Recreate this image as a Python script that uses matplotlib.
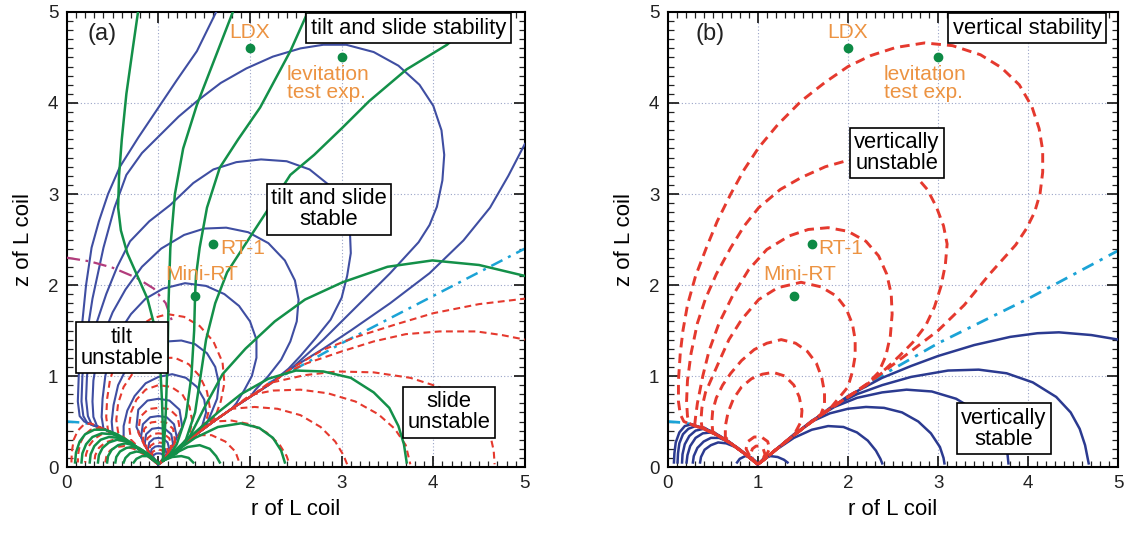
import numpy as np
import matplotlib
matplotlib.use("Agg")
import matplotlib.pyplot as plt
from matplotlib.ticker import MultipleLocator

plt.rcParams['font.family'] = ['Liberation Sans', 'DejaVu Sans']

# ---- shared geometry (r, z) ----
LEFT_SEP = [(1.0, 0.03), (0.95, 0.07), (0.85, 0.15), (0.70, 0.26),
            (0.55, 0.35), (0.40, 0.42), (0.28, 0.46), (0.20, 0.49)]
RIGHT_SEP = [(1.0, 0.03), (1.08, 0.09), (1.2, 0.19), (1.4, 0.35), (1.6, 0.5),
             (1.8, 0.64), (2.0, 0.77), (2.2, 0.9), (2.44, 1.05)]

devices = ['LDX', 'levitation\ntest exp.', 'RT-1', 'Mini-RT']
dev_r = [2.0, 3.0, 1.6, 1.4]
dev_z = [4.6, 4.5, 2.45, 1.88]

# ---- panel (a): tilt (blue) ----
tilt_drops = [
    [(1.0, 0.03), (0.965, 0.05), (0.94, 0.09), (0.945, 0.13), (0.975, 0.148), (1.0, 0.15),
     (1.025, 0.148), (1.055, 0.13), (1.06, 0.09), (1.035, 0.05), (1.0, 0.03)],
    [(1.0, 0.03), (0.95, 0.07), (0.915, 0.14), (0.925, 0.195), (0.965, 0.225), (1.0, 0.23),
     (1.04, 0.225), (1.075, 0.195), (1.09, 0.14), (1.055, 0.07), (1.0, 0.03)],
    [(1.0, 0.03), (0.93, 0.1), (0.885, 0.19), (0.9, 0.27), (0.95, 0.313), (1.0, 0.32),
     (1.05, 0.313), (1.1, 0.27), (1.12, 0.19), (1.075, 0.1), (1.0, 0.03)],
    [(1.0, 0.03), (0.91, 0.13), (0.85, 0.25), (0.865, 0.36), (0.93, 0.42), (1.0, 0.43),
     (1.07, 0.42), (1.14, 0.36), (1.16, 0.25), (1.1, 0.13), (1.0, 0.03)],
    [(1.0, 0.03), (0.89, 0.17), (0.81, 0.33), (0.83, 0.47), (0.91, 0.547), (1.0, 0.56),
     (1.09, 0.547), (1.17, 0.47), (1.2, 0.33), (1.12, 0.17), (1.0, 0.03)],
    [(1.0, 0.03), (0.86, 0.22), (0.76, 0.44), (0.78, 0.63), (0.88, 0.73), (1.0, 0.75),
     (1.12, 0.73), (1.23, 0.63), (1.26, 0.44), (1.15, 0.22), (1.0, 0.03)],
]
tilt_loops = [
    [(0.62, 0.31), (0.62, 0.45), (0.66, 0.62), (0.74, 0.78), (0.86, 0.92), (1.0, 0.99),
     (1.15, 1.02), (1.3, 0.98), (1.42, 0.88), (1.5, 0.74), (1.52, 0.6), (1.48, 0.46), (1.42, 0.37)],
    [(0.5, 0.38), (0.49, 0.5), (0.51, 0.68), (0.56, 0.9), (0.65, 1.08), (0.78, 1.23), (0.93, 1.33),
     (1.1, 1.38), (1.25, 1.39), (1.4, 1.35), (1.53, 1.25), (1.62, 1.1), (1.66, 0.92), (1.64, 0.75),
     (1.58, 0.6), (1.52, 0.46)],
    [(0.4, 0.42), (0.38, 0.55), (0.39, 0.75), (0.42, 1.0), (0.48, 1.25), (0.57, 1.48), (0.7, 1.68),
     (0.86, 1.85), (1.05, 1.96), (1.29, 2.02), (1.52, 1.99), (1.72, 1.9), (1.88, 1.77), (2.0, 1.6),
     (2.07, 1.4), (2.07, 1.2), (2.02, 1.0), (1.94, 0.85), (1.85, 0.7)],
    [(0.33, 0.45), (0.29, 0.55), (0.28, 0.72), (0.29, 0.95), (0.33, 1.2), (0.4, 1.45), (0.5, 1.7),
     (0.64, 1.95), (0.82, 2.2), (1.03, 2.4), (1.28, 2.55), (1.5, 2.62), (1.74, 2.63), (1.98, 2.58),
     (2.2, 2.46), (2.38, 2.27), (2.49, 2.05), (2.53, 1.84), (2.51, 1.6), (2.44, 1.38), (2.34, 1.18),
     (2.2, 1.0), (2.06, 0.85)],
    [(0.27, 0.47), (0.23, 0.56), (0.21, 0.75), (0.22, 1.0), (0.26, 1.3), (0.33, 1.6), (0.43, 1.9),
     (0.55, 2.2), (0.69, 2.48), (0.9, 2.7), (1.13, 2.88), (1.38, 3.12), (1.6, 3.27), (1.85, 3.35),
     (2.12, 3.38), (2.4, 3.36), (2.65, 3.27), (2.86, 3.1), (3.01, 2.86), (3.09, 2.6), (3.1, 2.35),
     (3.06, 2.1), (3.0, 1.86), (2.88, 1.62), (2.72, 1.42), (2.55, 1.22), (2.42, 1.08)],
    [(0.22, 0.49), (0.18, 0.56), (0.16, 0.72), (0.17, 1.0), (0.21, 1.4), (0.28, 1.85), (0.4, 2.41),
     (0.52, 2.85), (0.65, 3.21), (0.82, 3.45), (1.02, 3.65), (1.22, 3.85), (1.42, 4.02), (1.68, 4.22),
     (1.96, 4.38), (2.25, 4.51), (2.55, 4.6), (2.8, 4.64), (3.05, 4.64), (3.35, 4.56), (3.62, 4.41),
     (3.85, 4.2), (4.0, 3.97), (4.09, 3.7), (4.12, 3.43), (4.1, 3.15), (4.04, 2.86), (3.96, 2.66),
     (3.84, 2.47), (3.53, 2.13), (3.16, 1.76), (2.8, 1.4), (2.46, 1.09)],
]
tilt_open_top = [(0.19, 0.5), (0.14, 0.56), (0.12, 0.72), (0.13, 1.0), (0.16, 1.5), (0.21, 2.0),
                 (0.27, 2.41), (0.35, 2.7), (0.45, 3.0), (0.58, 3.3), (0.78, 3.62), (1.02, 3.98),
                 (1.2, 4.25), (1.42, 4.57), (1.64, 5.02)]
tilt_open_right = [(5.0, 3.55), (4.82, 3.2), (4.62, 2.85), (4.33, 2.49), (3.96, 2.13), (3.53, 1.8),
                   (3.1, 1.5), (2.8, 1.3), (2.46, 1.09)]

# ---- panel (a): unstable contours (red dashed) ----
red_drops_a = [
    [(1.0, 0.03), (0.955, 0.06), (0.927, 0.11), (0.935, 0.165), (0.97, 0.187), (1.0, 0.19),
     (1.03, 0.187), (1.065, 0.165), (1.075, 0.11), (1.045, 0.06), (1.0, 0.03)],
    [(1.0, 0.03), (0.94, 0.08), (0.9, 0.16), (0.91, 0.23), (0.96, 0.265), (1.0, 0.27),
     (1.045, 0.265), (1.09, 0.23), (1.105, 0.16), (1.065, 0.08), (1.0, 0.03)],
    [(1.0, 0.03), (0.92, 0.11), (0.865, 0.22), (0.88, 0.315), (0.94, 0.363), (1.0, 0.37),
     (1.06, 0.363), (1.12, 0.315), (1.14, 0.22), (1.085, 0.11), (1.0, 0.03)],
    [(1.0, 0.03), (0.9, 0.15), (0.83, 0.29), (0.845, 0.42), (0.92, 0.49), (1.0, 0.5),
     (1.08, 0.49), (1.16, 0.42), (1.18, 0.29), (1.11, 0.15), (1.0, 0.03)],
    [(1.0, 0.03), (0.87, 0.19), (0.78, 0.38), (0.8, 0.55), (0.89, 0.637), (1.0, 0.65),
     (1.12, 0.637), (1.21, 0.55), (1.24, 0.38), (1.14, 0.19), (1.0, 0.03)],
]
red_loops_a = [
    [(0.7, 0.3), (0.68, 0.45), (0.7, 0.6), (0.76, 0.74), (0.86, 0.85), (1.0, 0.9), (1.14, 0.88),
     (1.26, 0.8), (1.34, 0.66), (1.37, 0.5), (1.33, 0.33)],
    [(0.56, 0.38), (0.54, 0.52), (0.56, 0.7), (0.62, 0.88), (0.72, 1.03), (0.86, 1.14), (1.02, 1.2),
     (1.18, 1.2), (1.33, 1.13), (1.45, 1.0), (1.53, 0.83), (1.56, 0.66), (1.52, 0.5)],
    [(0.45, 0.4), (0.43, 0.55), (0.44, 0.75), (0.47, 0.95), (0.53, 1.15), (0.62, 1.35), (0.75, 1.52),
     (0.92, 1.63), (1.1, 1.68), (1.28, 1.65), (1.45, 1.55), (1.6, 1.38), (1.7, 1.15), (1.72, 0.92),
     (1.68, 0.72), (1.62, 0.55)],
]
red_left_a = [
    [(0.05, 0.05), (0.055, 0.17), (0.075, 0.3), (0.12, 0.4), (0.18, 0.46), (0.26, 0.48)],
    [(0.12, 0.05), (0.125, 0.15), (0.145, 0.26), (0.19, 0.35), (0.26, 0.41), (0.35, 0.43), (0.45, 0.4)],
    [(0.2, 0.05), (0.21, 0.14), (0.24, 0.23), (0.3, 0.31), (0.38, 0.36), (0.48, 0.37), (0.58, 0.33)],
    [(0.3, 0.05), (0.31, 0.13), (0.35, 0.21), (0.42, 0.27), (0.51, 0.3), (0.61, 0.29), (0.72, 0.24)],
    [(0.42, 0.05), (0.43, 0.11), (0.47, 0.18), (0.54, 0.22), (0.63, 0.23), (0.73, 0.2), (0.84, 0.14)],
]
red_right_a = [
    [(2.46, 1.09), (2.8, 1.29), (3.16, 1.43), (3.6, 1.57), (4.0, 1.69), (4.5, 1.79), (5.0, 1.85)],
    [(2.4, 1.04), (2.62, 1.14), (3.0, 1.27), (3.35, 1.38), (3.7, 1.46), (4.07, 1.49), (4.47, 1.49),
     (4.75, 1.45), (5.0, 1.4)],
    [(2.2, 0.92), (2.6, 1.01), (2.95, 1.05), (3.35, 1.04), (3.75, 0.98), (4.06, 0.88), (4.33, 0.73),
     (4.52, 0.55), (4.62, 0.36), (4.66, 0.18), (4.67, 0.03)],
    [(2.0, 0.79), (2.25, 0.84), (2.55, 0.85), (2.85, 0.81), (3.15, 0.72), (3.4, 0.58), (3.58, 0.42),
     (3.7, 0.24), (3.75, 0.03)],
    [(1.8, 0.64), (2.05, 0.66), (2.3, 0.64), (2.55, 0.57), (2.77, 0.44), (2.93, 0.28), (3.02, 0.13),
     (3.06, 0.03)],
    [(1.6, 0.5), (1.8, 0.51), (2.0, 0.47), (2.18, 0.38), (2.32, 0.25), (2.4, 0.12), (2.43, 0.03)],
    [(1.4, 0.35), (1.58, 0.35), (1.73, 0.28), (1.84, 0.17), (1.89, 0.03)],
]

# ---- panel (a): slide (green) ----
slide_fan = [
    [(0.78, 5.02), (0.72, 4.6), (0.65, 4.1), (0.6, 3.6), (0.57, 3.2), (0.56, 2.85), (0.59, 2.6),
     (0.66, 2.35), (0.77, 2.1), (0.88, 1.85), (0.97, 1.5), (1.02, 1.1), (1.04, 0.7), (1.05, 0.35),
     (1.05, 0.07)],
    [(1.82, 5.02), (1.62, 4.5), (1.42, 3.98), (1.27, 3.5), (1.18, 3.0), (1.13, 2.41), (1.11, 1.8),
     (1.1, 1.2), (1.08, 0.6), (1.06, 0.2), (1.05, 0.07)],
    [(2.64, 5.02), (2.44, 4.57), (2.11, 3.95), (1.87, 3.6), (1.67, 3.29), (1.53, 2.85), (1.45, 2.41),
     (1.41, 2.1), (1.4, 1.89), (1.39, 1.5), (1.36, 1.0), (1.3, 0.55), (1.2, 0.25), (1.1, 0.1),
     (1.05, 0.07)],
    [(4.5, 4.95), (4.15, 4.64), (3.71, 4.37), (3.3, 4.02), (3.01, 3.73), (2.7, 3.43), (2.44, 3.21),
     (2.19, 2.82), (1.95, 2.45), (1.75, 2.14), (1.62, 1.8), (1.52, 1.4), (1.46, 1.0), (1.4, 0.6),
     (1.3, 0.3), (1.15, 0.12), (1.05, 0.07)],
    [(5.0, 2.1), (4.5, 2.22), (3.99, 2.27), (3.5, 2.2), (3.01, 2.03), (2.6, 1.84), (2.27, 1.6),
     (1.95, 1.3), (1.7, 1.02), (1.5, 0.65), (1.35, 0.35), (1.2, 0.15), (1.05, 0.07)],
    [(1.05, 0.07), (1.2, 0.2), (1.4, 0.38), (1.65, 0.6), (1.9, 0.8), (2.2, 0.97), (2.5, 1.06),
     (2.8, 1.05), (3.1, 0.98), (3.35, 0.82), (3.52, 0.65), (3.62, 0.45), (3.68, 0.25), (3.71, 0.05)],
    [(1.05, 0.07), (1.2, 0.18), (1.4, 0.32), (1.65, 0.44), (1.9, 0.48), (2.1, 0.43), (2.25, 0.32),
     (2.34, 0.18), (2.38, 0.05)],
    [(1.05, 0.07), (1.18, 0.15), (1.32, 0.22), (1.45, 0.24), (1.56, 0.2), (1.63, 0.12), (1.67, 0.05)],
    [(1.05, 0.07), (1.15, 0.11), (1.25, 0.12), (1.33, 0.1), (1.38, 0.05)],
]
slide_left = [
    [(0.09, 0.05), (0.1, 0.16), (0.14, 0.28), (0.2, 0.36), (0.3, 0.41), (0.42, 0.41), (0.55, 0.36),
     (0.7, 0.27), (0.85, 0.15), (0.95, 0.07), (1.0, 0.04)],
    [(0.16, 0.05), (0.17, 0.15), (0.21, 0.25), (0.28, 0.33), (0.38, 0.37), (0.5, 0.36), (0.62, 0.31),
     (0.75, 0.23), (0.88, 0.13), (1.0, 0.04)],
    [(0.25, 0.05), (0.26, 0.14), (0.3, 0.23), (0.37, 0.3), (0.46, 0.33), (0.57, 0.32), (0.68, 0.27),
     (0.8, 0.19), (0.91, 0.11), (1.0, 0.04)],
    [(0.34, 0.05), (0.35, 0.13), (0.39, 0.21), (0.46, 0.27), (0.55, 0.3), (0.65, 0.28), (0.76, 0.22),
     (0.88, 0.13), (1.0, 0.04)],
    [(0.44, 0.05), (0.45, 0.12), (0.49, 0.19), (0.56, 0.24), (0.64, 0.26), (0.73, 0.24), (0.83, 0.18),
     (0.92, 0.11), (1.0, 0.04)],
    [(0.53, 0.05), (0.54, 0.11), (0.58, 0.17), (0.65, 0.21), (0.72, 0.22), (0.8, 0.2), (0.88, 0.15),
     (0.95, 0.09), (1.0, 0.04)],
    [(0.62, 0.05), (0.64, 0.1), (0.69, 0.15), (0.76, 0.17), (0.84, 0.16), (0.92, 0.11), (1.0, 0.04)],
    [(0.73, 0.05), (0.76, 0.09), (0.82, 0.12), (0.89, 0.12), (0.95, 0.08), (1.0, 0.04)],
]
tilt_limit = [(0.0, 2.3), (0.25, 2.26), (0.5, 2.19), (0.76, 2.08), (0.95, 1.96), (1.08, 1.8), (1.15, 1.6)]
sep_left = [(0.0, 0.5), (0.14, 0.49), (0.27, 0.47)]
sep_right_a = [(2.2, 0.92), (2.5, 1.08), (3.0, 1.36), (4.0, 1.88), (5.0, 2.4)]

# ---- panel (b): vertical stability ----
vert_unstable_drops = [
    [(1.0, 0.03), (0.95, 0.07), (0.92, 0.14), (0.94, 0.2), (0.98, 0.23), (1.02, 0.23), (1.06, 0.2),
     (1.08, 0.14), (1.05, 0.07), (1.0, 0.03)],
    [(1.0, 0.03), (0.92, 0.1), (0.87, 0.2), (0.89, 0.28), (0.96, 0.33), (1.04, 0.33), (1.11, 0.28),
     (1.13, 0.2), (1.08, 0.1), (1.0, 0.03)],
]
vert_unstable_loops = [
    [(0.64, 0.33), (0.64, 0.45), (0.67, 0.6), (0.73, 0.75), (0.82, 0.88), (0.93, 0.97), (1.05, 1.02),
     (1.17, 1.04), (1.3, 1.0), (1.4, 0.9), (1.46, 0.77), (1.49, 0.62), (1.48, 0.5)],
    [(0.5, 0.39), (0.49, 0.5), (0.5, 0.62), (0.54, 0.76), (0.61, 0.9), (0.7, 1.03), (0.82, 1.17),
     (0.96, 1.29), (1.1, 1.36), (1.26, 1.4), (1.42, 1.36), (1.55, 1.27), (1.65, 1.14), (1.71, 0.98),
     (1.74, 0.82), (1.74, 0.68), (1.7, 0.58)],
    [(0.38, 0.44), (0.37, 0.52), (0.38, 0.65), (0.42, 0.82), (0.5, 1.0), (0.58, 1.18), (0.68, 1.4),
     (0.82, 1.62), (1.01, 1.84), (1.22, 1.97), (1.48, 2.03), (1.7, 1.98), (1.87, 1.88), (1.98, 1.74),
     (2.05, 1.57), (2.08, 1.4), (2.08, 1.22), (2.05, 1.05), (2.0, 0.88)],
    [(0.3, 0.46), (0.31, 0.55), (0.33, 0.7), (0.36, 0.85), (0.39, 1.0), (0.46, 1.28), (0.57, 1.58),
     (0.72, 1.88), (0.9, 2.17), (1.1, 2.39), (1.35, 2.54), (1.56, 2.61), (1.78, 2.63), (2.0, 2.59),
     (2.2, 2.48), (2.34, 2.32), (2.43, 2.12), (2.48, 1.9), (2.49, 1.68), (2.47, 1.44), (2.42, 1.22),
     (2.34, 1.04), (2.22, 0.92)],
    [(0.24, 0.48), (0.22, 0.56), (0.21, 0.72), (0.22, 0.95), (0.26, 1.25), (0.33, 1.58), (0.42, 1.85),
     (0.54, 2.12), (0.7, 2.41), (0.85, 2.65), (1.01, 2.85), (1.25, 3.05), (1.48, 3.18), (1.75, 3.3),
     (2.0, 3.37), (2.25, 3.4), (2.5, 3.35), (2.74, 3.21), (2.88, 3.05), (2.98, 2.86), (3.06, 2.65),
     (3.1, 2.45), (3.08, 2.22), (3.03, 1.98), (2.96, 1.76), (2.86, 1.55), (2.72, 1.37), (2.57, 1.22),
     (2.42, 1.08)],
    [(0.18, 0.5), (0.14, 0.58), (0.12, 0.72), (0.12, 0.95), (0.14, 1.25), (0.17, 1.5), (0.22, 1.78),
     (0.31, 2.1), (0.43, 2.41), (0.55, 2.7), (0.7, 3.0), (0.85, 3.27), (1.01, 3.51), (1.22, 3.76),
     (1.48, 4.02), (1.75, 4.23), (2.0, 4.4), (2.25, 4.52), (2.53, 4.61), (2.85, 4.66), (3.16, 4.63),
     (3.47, 4.53), (3.7, 4.39), (3.9, 4.2), (4.04, 3.96), (4.12, 3.72), (4.16, 3.48), (4.16, 3.24),
     (4.13, 3.0), (4.07, 2.8), (3.98, 2.62), (3.86, 2.44), (3.58, 2.13), (3.29, 1.78), (3.0, 1.5),
     (2.71, 1.28), (2.44, 1.08)],
]
vert_stable_left = [
    [(0.07, 0.05), (0.075, 0.15), (0.09, 0.27), (0.13, 0.38), (0.19, 0.45), (0.27, 0.47)],
    [(0.11, 0.05), (0.115, 0.15), (0.13, 0.26), (0.17, 0.36), (0.23, 0.42), (0.31, 0.45), (0.41, 0.43)],
    [(0.16, 0.05), (0.165, 0.14), (0.19, 0.25), (0.24, 0.34), (0.31, 0.4), (0.4, 0.42), (0.5, 0.39),
     (0.58, 0.34)],
    [(0.21, 0.05), (0.22, 0.13), (0.25, 0.23), (0.31, 0.32), (0.39, 0.37), (0.48, 0.38), (0.58, 0.34),
     (0.68, 0.28)],
    [(0.28, 0.05), (0.29, 0.12), (0.33, 0.21), (0.4, 0.28), (0.48, 0.32), (0.57, 0.32), (0.67, 0.28),
     (0.78, 0.21), (0.87, 0.14)],
    [(0.36, 0.05), (0.37, 0.11), (0.41, 0.19), (0.48, 0.24), (0.56, 0.27), (0.65, 0.26), (0.75, 0.22),
     (0.86, 0.14)],
]
vert_stable_small = [
    [(0.77, 0.05), (0.8, 0.09), (0.86, 0.12), (0.92, 0.11), (0.97, 0.07), (1.0, 0.04)],
    [(1.01, 0.04), (1.06, 0.09), (1.14, 0.12), (1.22, 0.11), (1.29, 0.08), (1.33, 0.05)],
]
vert_stable_right = [
    [(1.25, 0.22), (1.4, 0.32), (1.6, 0.41), (1.78, 0.45), (1.95, 0.44), (2.1, 0.38), (2.22, 0.29),
     (2.31, 0.18), (2.36, 0.09), (2.38, 0.04)],
    [(1.4, 0.36), (1.6, 0.5), (1.8, 0.59), (2.0, 0.64), (2.2, 0.66), (2.4, 0.65), (2.6, 0.6),
     (2.78, 0.5), (2.92, 0.37), (3.02, 0.22), (3.06, 0.1), (3.07, 0.04)],
    [(1.6, 0.51), (1.85, 0.66), (2.1, 0.76), (2.38, 0.82), (2.65, 0.85), (2.93, 0.83), (3.2, 0.75),
     (3.47, 0.59), (3.63, 0.43), (3.73, 0.28), (3.77, 0.14), (3.78, 0.04)],
    [(1.8, 0.65), (2.1, 0.8), (2.38, 0.9), (2.7, 0.99), (3.11, 1.06), (3.45, 1.07), (3.76, 1.03),
     (4.05, 0.93), (4.31, 0.77), (4.47, 0.6), (4.57, 0.42), (4.63, 0.24), (4.67, 0.04)],
    [(2.0, 0.78), (2.38, 0.98), (2.7, 1.11), (3.0, 1.22), (3.4, 1.34), (3.8, 1.43), (4.1, 1.47),
     (4.34, 1.48), (4.7, 1.45), (5.0, 1.4)],
]
sep_right_b = [(2.0, 0.76), (2.4, 1.02), (3.0, 1.36), (4.0, 1.85), (5.0, 2.38)]

BLUE_A = '#3f4ea2'
BLUE_B = '#2b3a90'
GREEN = '#139049'
RED = '#e5392e'
CYAN = '#1ba3d6'
ORANGE = '#ec9342'
DOT = '#0d8a45'


def leg(p):
    sep = LEFT_SEP if p[0] < 1 else RIGHT_SEP
    return [q for q in sep if abs(q[0] - 1) < abs(p[0] - 1) - 0.02]


def tie(body, head=True, tail=True):
    pts = list(body)
    if head:
        pts = leg(body[0]) + pts
    if tail:
        pts = pts + leg(body[-1])[::-1]
    return pts


def draw(ax, curves, dashed=False, **kw):
    for k, c in enumerate(curves):
        a = np.array(c)
        if dashed:
            ax.plot(a[:, 0], a[:, 1], linestyle=((k * 1.3) % 5, (3.3, 2.1)),
                    solid_capstyle='butt', **kw)
        else:
            ax.plot(a[:, 0], a[:, 1], solid_joinstyle='round', **kw)


def style(ax):
    ax.set_xlim(0, 5)
    ax.set_ylim(0, 5)
    for axis in (ax.xaxis, ax.yaxis):
        axis.set_major_locator(MultipleLocator(1))
        axis.set_minor_locator(MultipleLocator(0.1))
    ax.tick_params(which='both', direction='in', top=True, right=True, colors='#222222')
    ax.tick_params(which='major', length=8, width=1.3, labelsize=13.5, pad=6)
    ax.tick_params(which='minor', length=4, width=0.9)
    ax.grid(which='major', ls=(0, (1, 2)), color='#9aa4c8', lw=0.8, zorder=0)
    for s in ax.spines.values():
        s.set_linewidth(1.5)
    ax.set_xlabel('r of L coil', fontsize=16, labelpad=5)
    ax.set_ylabel('z of L coil', fontsize=16, labelpad=10)


def box(ax, x, y, s):
    ax.text(x, y, s, ha='center', va='center', fontsize=15.8, linespacing=1.0, zorder=10,
            bbox=dict(boxstyle='square,pad=0.2', fc='white', ec='black', lw=1.2))


def devices_marks(ax):
    ax.plot(dev_r, dev_z, 'o', color=DOT, ms=6, zorder=8)
    kw = dict(color=ORANGE, fontsize=15, va='center', zorder=9)
    ax.text(dev_r[0], dev_z[0] + 0.18, devices[0], ha='center', **kw)
    ax.text(dev_r[1] - 0.6, dev_z[1] - 0.29, devices[1], ha='left', linespacing=0.92, **kw)
    ax.text(dev_r[2] + 0.07, dev_z[2] - 0.05, devices[2], ha='left', **kw)
    ax.text(dev_r[3] + 0.07, dev_z[3] + 0.24, devices[3], ha='center', **kw)


fig = plt.figure(figsize=(11.27, 5.33), dpi=100)
ax_a = fig.add_axes([0.0593, 0.1238, 0.4064, 0.8537])
ax_b = fig.add_axes([0.5924, 0.1238, 0.4000, 0.8537])

# panel (a)
draw(ax_a, [sep_left, sep_right_a], color=CYAN, lw=1.8, ls=(0, (5, 2.5, 1.2, 2.5)), zorder=2)
draw(ax_a, tilt_drops, color=BLUE_A, lw=1.5, zorder=3)
draw(ax_a, [tie(c) for c in tilt_loops], color=BLUE_A, lw=1.5, zorder=3)
draw(ax_a, [tie(tilt_open_top, tail=False), tie(tilt_open_right, head=False)], color=BLUE_A, lw=1.5, zorder=3)
draw(ax_a, red_drops_a + [tie(c) for c in red_loops_a], dashed=True, color=RED, lw=1.5, zorder=4)
draw(ax_a, [tie(c, head=False) for c in red_left_a], dashed=True, color=RED, lw=1.5, zorder=4)
draw(ax_a, [tie(c, tail=False) for c in red_right_a], dashed=True, color=RED, lw=1.5, zorder=4)
draw(ax_a, slide_fan + slide_left, color=GREEN, lw=1.8, zorder=5)
lim = np.array(tilt_limit)
ax_a.plot(lim[:, 0], lim[:, 1], color='#b23c7c', lw=1.6, ls=(0, (6, 2.5, 1.2, 2.5)), zorder=4)
devices_marks(ax_a)
ax_a.text(0.39, 4.76, '(a)', fontsize=17, ha='center', va='center', color='#222222')
box(ax_a, 3.73, 4.82, 'tilt and slide stability')
box(ax_a, 2.86, 2.83, 'tilt and slide\nstable')
box(ax_a, 0.6, 1.31, 'tilt\nunstable')
box(ax_a, 4.17, 0.6, 'slide\nunstable')
style(ax_a)

# panel (b)
draw(ax_b, [sep_left, sep_right_b], color=CYAN, lw=2.0, ls=(0, (4.5, 2.5, 1.2, 2.5)), zorder=2)
draw(ax_b, vert_unstable_drops + [tie(c) for c in vert_unstable_loops], dashed=True, color=RED, lw=2.1, zorder=4)
draw(ax_b, [tie(c, head=False) for c in vert_stable_left], color=BLUE_B, lw=1.8, zorder=3)
draw(ax_b, vert_stable_small, color=BLUE_B, lw=1.8, zorder=3)
draw(ax_b, [tie(c, tail=False) for c in vert_stable_right], color=BLUE_B, lw=1.8, zorder=3)
devices_marks(ax_b)
ax_b.text(0.47, 4.76, '(b)', fontsize=17, ha='center', va='center', color='#222222')
box(ax_b, 3.99, 4.82, 'vertical stability')
box(ax_b, 2.54, 3.45, 'vertically\nunstable')
box(ax_b, 3.73, 0.42, 'vertically\nstable')
style(ax_b)

fig.savefig('out.png', dpi=100)
